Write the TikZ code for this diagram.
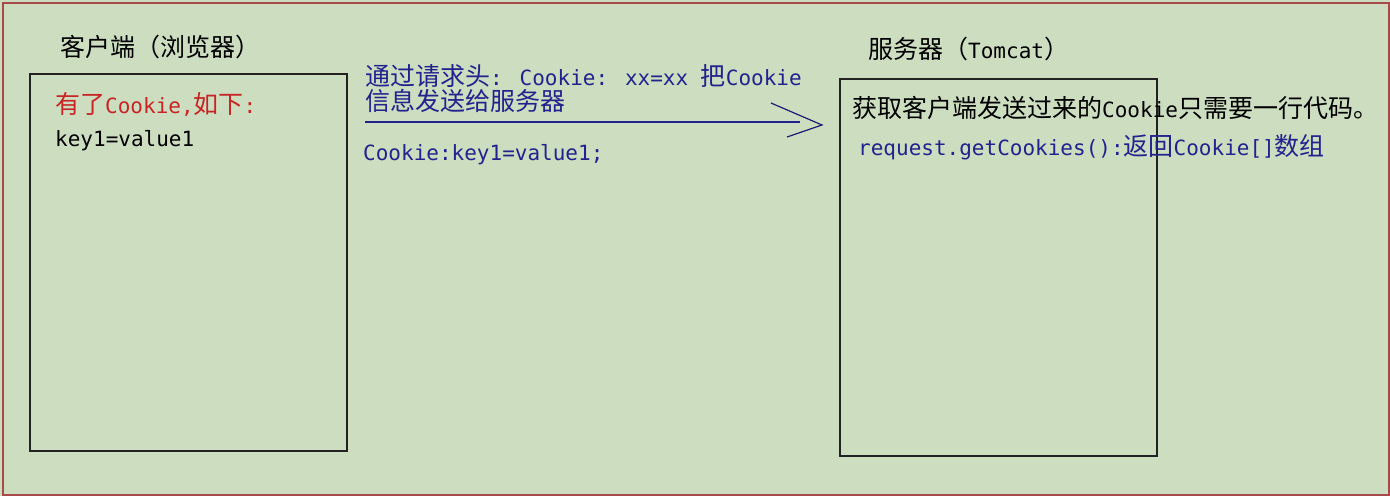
\documentclass[tikz,border=0pt]{standalone}
\usepackage{fontspec}
\setmainfont{DejaVu Sans Mono}
\newfontfamily\cjk{Noto Sans CJK SC}
\newcommand{\zh}[1]{{\cjk\fontsize{25}{29}\selectfont #1}}
\definecolor{bg}{HTML}{CDDEC0}
\definecolor{frameRed}{HTML}{A84A4A}
\definecolor{txtBlue}{HTML}{22228E}
\definecolor{txtRed}{HTML}{C82424}
\definecolor{boxLine}{HTML}{222222}
\tikzset{
  lbl/.style={anchor=west, inner sep=0pt, font=\fontsize{21}{25}\selectfont},
  boxnode/.style={draw=boxLine, line width=2pt, anchor=north west, inner sep=0pt},
  flowline/.style={draw=txtBlue, line width=1.5pt},
  headline/.style={draw=txtBlue!80!black, line width=1.2pt},
}
\begin{document}
\begin{tikzpicture}[x=1pt,y=-1pt]
\useasboundingbox (0,0) rectangle (1390,496);
\fill[bg] (0,0) rectangle (1390,496);
\node[draw=frameRed, line width=2pt, fill=bg, anchor=north west, inner sep=0pt,
      minimum width=1386pt, minimum height=492pt] (frame) at (2,2) {};
% boxes
\node[boxnode, minimum width=317pt, minimum height=377pt] (client) at (29,73) {};
\node[boxnode, minimum width=317pt, minimum height=377pt] (server) at (839,78) {};
% titles
\node[lbl] (ctitle) at (60,47) {\zh{客户端（浏览器）}};
\node[lbl] (stitle) at (868,49) {\zh{服务器（}Tomcat\zh{）}};
% client texts
\node[lbl, text=txtRed] (have) at (55,104) {\zh{有了}Cookie,\zh{如下}:};
\node[lbl] (kv) at (55,141) {key1=value1};
% arrow texts
\node[lbl, text=txtBlue] (req1) at (365,76) {\zh{通过请求头}: Cookie: xx=xx \zh{把}Cookie};
\node[lbl, text=txtBlue] (req2) at (365,101) {\zh{信息发送给服务器}};
\node[lbl, text=txtBlue] (ck) at (363,155) {Cookie:key1=value1;};
% server texts
\node[lbl] (get1) at (852,108) {\zh{获取客户端发送过来的}Cookie\zh{只需要一行代码。}};
\node[lbl, text=txtBlue] (get2) at (858,147) {request.getCookies():\zh{返回}Cookie[]\zh{数组}};
% arrow
\coordinate (a1) at (365,122);
\coordinate (a2) at (800,122);
\coordinate (tip) at (822,125);
\coordinate (h1) at (771,103);
\coordinate (h2) at (787,137);
\draw[flowline] (a1) -- (a2);
\draw[headline] (h1) -- (tip) -- (h2);
\end{tikzpicture}
\end{document}
